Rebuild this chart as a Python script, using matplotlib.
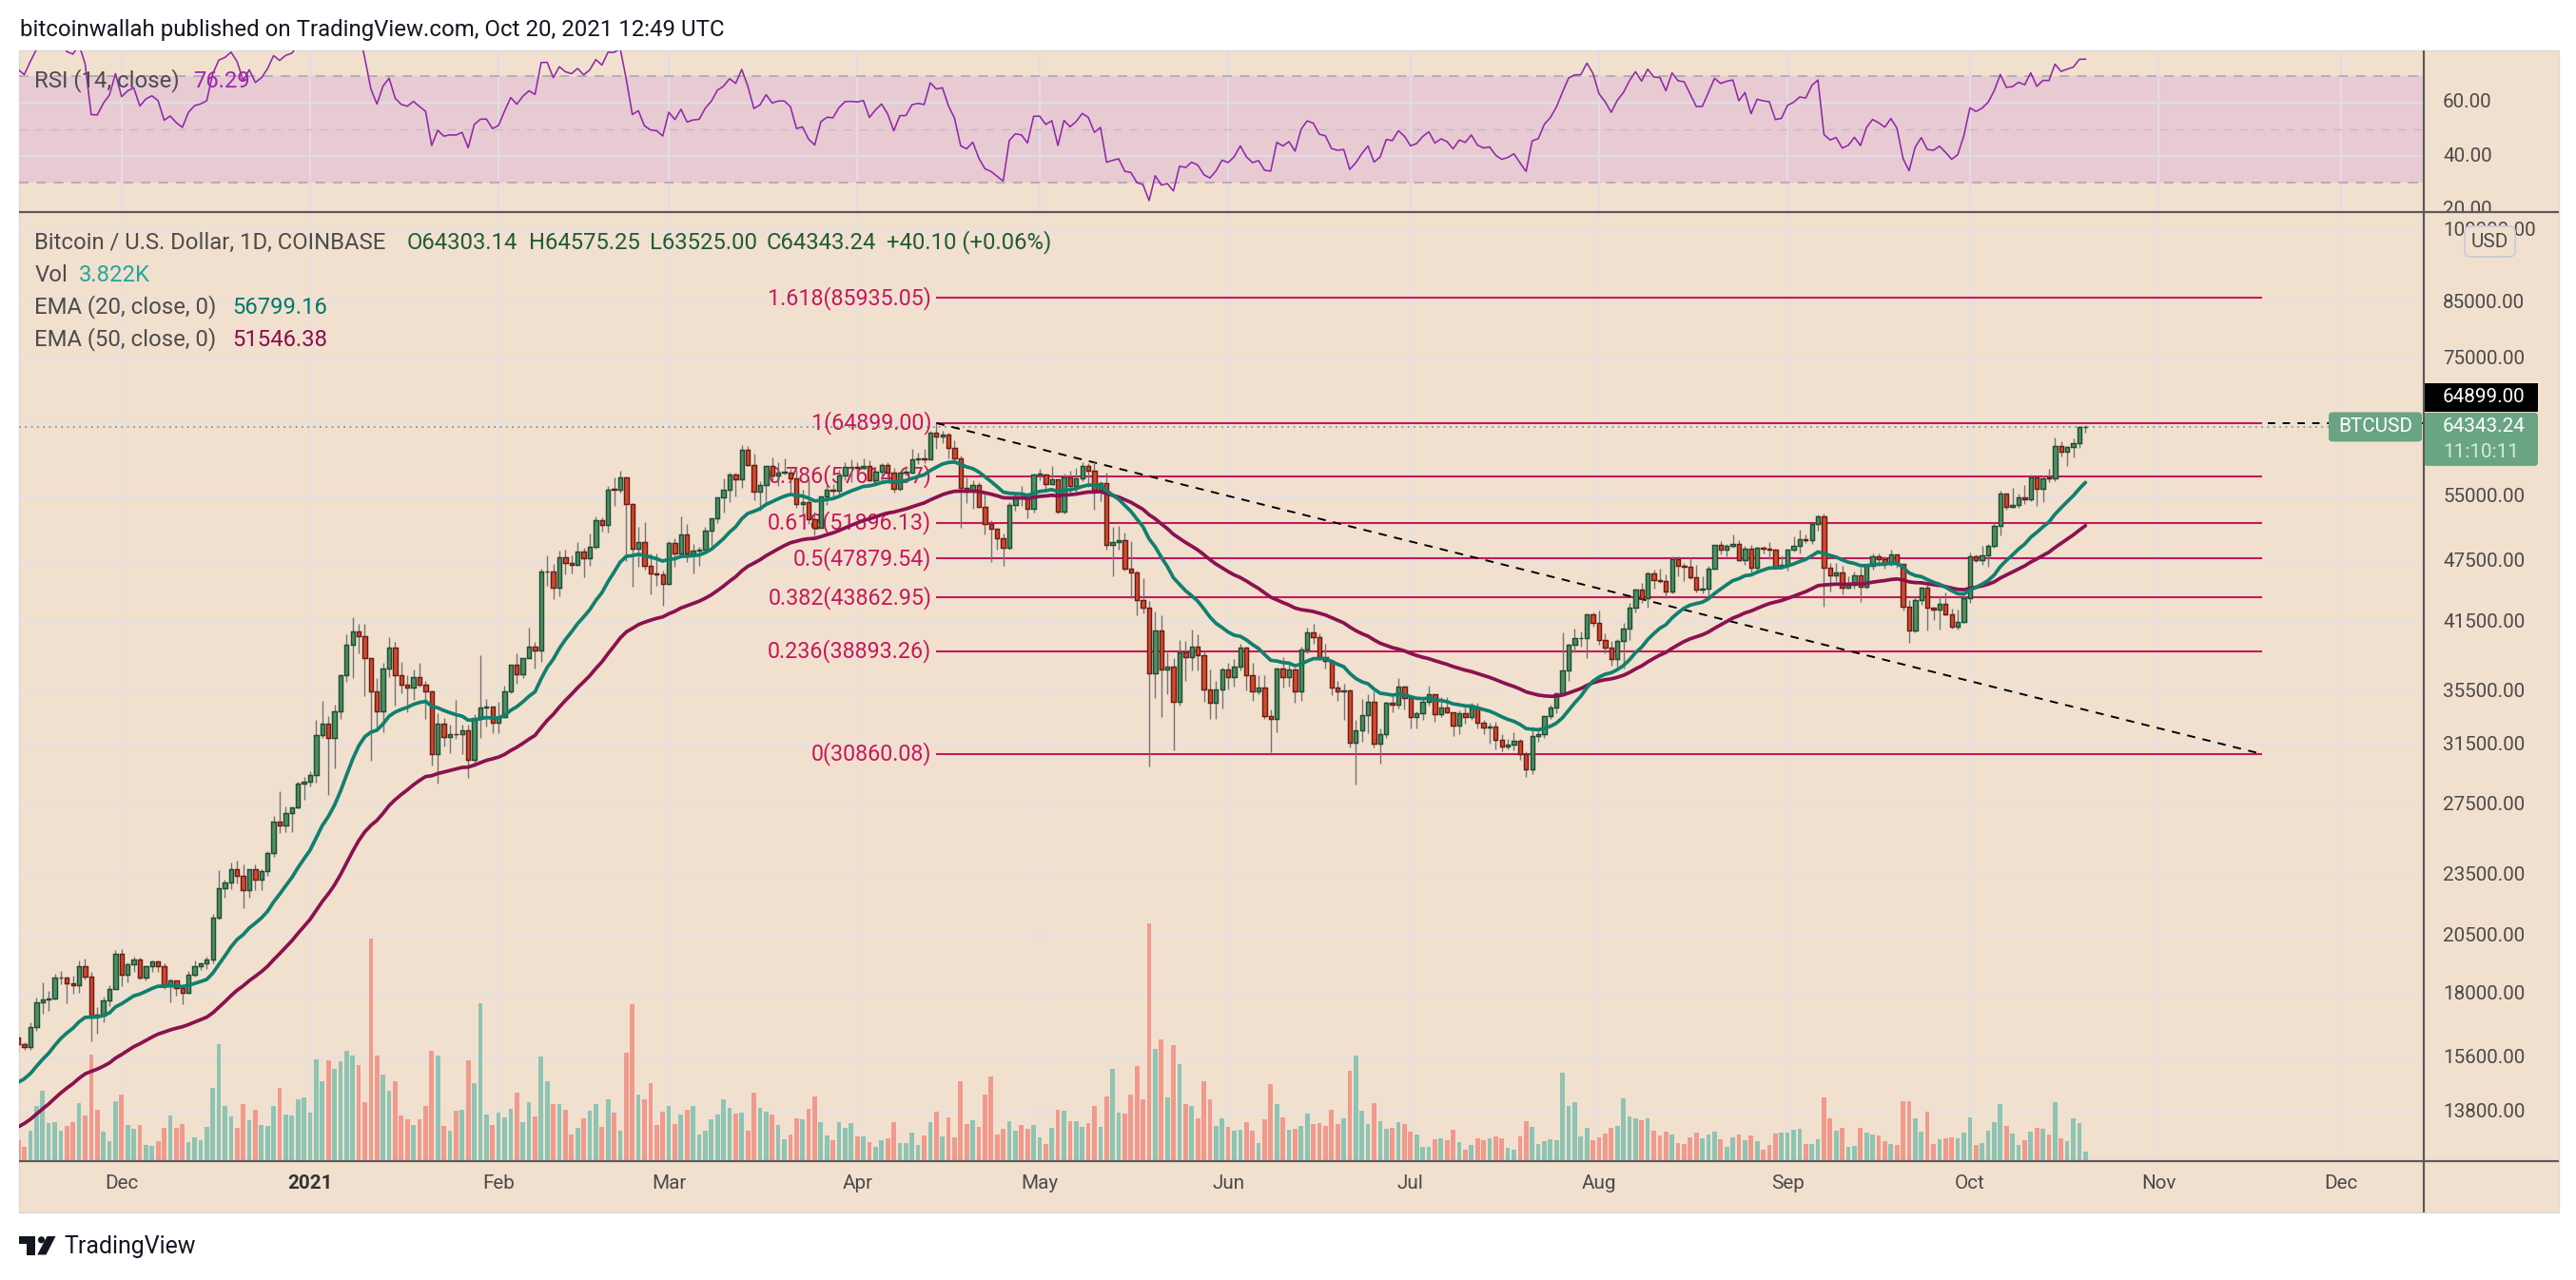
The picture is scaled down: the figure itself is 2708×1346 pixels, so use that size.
import datetime as dt
import numpy as np
import pandas as pd
import matplotlib
matplotlib.use("Agg")
import matplotlib.pyplot as plt
import matplotlib.dates as mdates
from matplotlib.patches import Rectangle, FancyBboxPatch, Polygon, Circle
from matplotlib.transforms import blended_transform_factory, offset_copy

# ---------------- DATA (BTC/USD daily, Coinbase) ----------------
# warm-up closes for indicators: 2020-09-01 .. 2020-11-13
close_pre_sep = [11920, 11390, 10170, 10470, 10170, 10250, 10370, 10130, 10230, 10340,
                 10390, 10440, 10330, 10680, 10790, 10960, 10940, 10930, 11080, 10920,
                 10420, 10530, 10240, 10740, 10690, 10730, 10770, 10700, 10840, 10780]
close_pre_oct = [10620, 10570, 10550, 10670, 10790, 10600, 10670, 10920, 11060, 11300,
                 11380, 11540, 11430, 11430, 11510, 11330, 11370, 11510, 11750, 11920,
                 12820, 12990, 12940, 13130, 13040, 13070, 13650, 13280, 13460, 13560, 13800]
close_pre_nov = [13760, 13560, 14030, 14150, 15590, 15590, 14840, 15480, 15330, 15310,
                 15700, 16290, 16330]

# visible bars: 2020-11-14 .. 2021-10-20
close_nov20 = [16070, 15970, 16720, 17660, 17780, 17820, 18660, 18690, 18420, 18370, 19160, 18730, 17150, 17140, 17720, 18180, 19700]
high_nov20 = [16480, 16140, 16880, 17860, 18490, 18140, 18820, 18970, 18700, 18770, 19420, 19490, 18920, 17460, 17880, 18340, 19870]
low_nov20 = [15790, 15870, 15880, 16560, 17220, 17340, 17770, 18410, 17620, 18000, 18040, 18600, 16190, 16460, 16880, 17520, 18180]

close_dec20 = [18790, 19220, 19440, 18680, 19150, 19360, 19170, 18320, 18550, 18250, 18040, 18800, 19170, 19270, 19440, 21350, 22800, 23130, 23840, 23480, 22720, 23820, 23250, 23710, 24690, 26490, 26270, 27040, 27360, 28880, 28990]
high_dec20 = [19920, 19310, 19560, 19510, 19180, 19420, 19400, 19290, 18640, 18560, 18290, 18950, 19410, 19340, 19570, 21560, 23770, 23280, 24170, 24290, 24100, 23840, 24100, 23800, 24790, 26850, 28370, 27410, 27380, 28990, 29300]
low_dec20 = [18330, 18480, 18930, 18580, 18560, 18930, 18910, 18210, 17650, 17910, 17580, 18010, 18710, 19000, 19050, 19290, 21260, 22360, 22770, 23070, 21820, 22350, 22710, 22730, 23450, 24500, 25860, 25880, 25890, 27320, 27860]

close_jan21 = [29410, 32190, 33000, 31990, 33950, 36830, 39400, 40610, 40240, 38240, 35550, 33960, 37370, 39150, 36820, 36030, 35820, 36640, 36070, 35530, 30830, 33010, 32090, 32270, 32240, 32570, 30430, 33470, 34270, 34300, 33110]
high_jan21 = [29680, 33300, 34790, 33600, 34500, 36950, 40380, 41950, 41360, 41350, 38260, 36630, 37850, 40100, 39700, 37950, 36850, 37300, 37850, 36400, 35600, 33840, 33460, 32960, 34880, 32930, 32940, 33780, 38560, 34910, 34310]
low_jan21 = [28660, 28950, 32000, 28130, 29900, 33400, 36300, 36570, 38720, 35110, 30360, 32530, 32400, 36700, 34400, 35360, 33860, 34870, 35900, 33400, 30070, 28850, 31400, 30900, 31950, 30840, 29260, 30000, 31990, 32850, 32300]

close_feb21 = [33520, 35510, 37680, 36950, 38290, 39260, 38900, 46450, 46510, 44840, 47970, 47400, 47190, 48590, 47940, 49170, 52150, 51600, 55900, 55890, 57410, 54090, 48890, 49700, 47060, 46300, 46150, 45240]
high_feb21 = [34700, 35980, 37720, 38680, 38300, 40980, 39700, 46750, 48180, 47330, 48680, 48870, 48190, 49710, 49000, 50620, 52580, 52500, 56370, 57500, 58350, 57510, 54200, 51400, 51950, 48400, 48380, 46600]
low_feb21 = [32300, 33430, 35370, 36160, 36600, 38300, 37370, 37990, 45050, 43720, 43950, 46240, 46300, 47060, 45900, 47080, 48980, 50860, 50710, 53900, 55490, 47600, 44900, 47000, 46740, 44150, 45000, 43020]

close_mar21 = [49600, 48380, 50500, 48370, 48760, 48880, 50970, 52390, 54880, 55860, 57800, 57230, 61180, 59000, 55640, 56470, 58920, 57660, 58090, 58100, 57350, 54080, 54340, 52300, 51290, 55020, 55860, 55780, 57630, 58760, 58800]
high_mar21 = [49810, 50150, 52640, 51780, 49450, 49200, 51450, 52400, 54900, 57380, 58070, 58050, 61740, 61600, 60610, 56950, 58980, 60100, 59470, 59900, 58600, 58400, 55850, 57200, 53210, 55080, 56560, 56600, 58400, 59380, 59800]
low_mar21 = [45120, 47020, 48110, 47520, 46300, 47070, 48880, 49300, 51840, 53080, 54300, 55030, 56120, 58960, 54600, 53300, 54150, 57030, 56300, 57850, 55500, 53700, 53000, 51700, 50400, 51280, 53950, 54680, 54900, 57020, 56870]

close_apr21 = [58730, 58980, 57080, 58200, 59120, 58020, 55950, 58090, 58120, 59770, 59980, 59860, 63580, 62960, 63200, 61400, 60000, 56150, 55660, 56470, 53800, 51700, 51150, 50110, 49070, 54040, 55050, 54880, 53590, 57800]
high_apr21 = [59460, 60000, 59760, 58500, 59260, 59470, 58660, 58150, 58900, 61230, 60690, 61200, 63760, 64899, 63800, 63500, 62500, 60400, 57500, 57100, 56800, 55500, 52150, 51200, 50600, 54360, 55500, 56400, 55200, 57950]
low_apr21 = [57950, 58450, 57000, 56500, 56800, 57330, 55470, 55730, 57700, 57930, 59200, 59370, 59800, 61300, 62000, 60000, 59600, 51300, 54200, 53500, 53600, 50500, 47500, 48800, 47060, 48800, 53300, 53900, 52400, 53100]

close_may21 = [57830, 56630, 57210, 53240, 57500, 56400, 57350, 58890, 58280, 55860, 56700, 49400, 49700, 49930, 46760, 46430, 43560, 42880, 37000, 40700, 37300, 37530, 34700, 38800, 38400, 39300, 38500, 35680, 34620, 35670, 37300]
high_may21 = [58500, 57950, 58950, 57250, 57950, 58350, 58650, 59500, 59300, 59600, 57000, 58000, 51400, 51500, 50700, 49800, 46600, 45800, 43550, 42500, 42100, 38800, 38300, 39900, 39800, 40800, 40400, 38850, 37300, 36400, 37500]
low_may21 = [57050, 56050, 56500, 53000, 52950, 55300, 55300, 56900, 56250, 53400, 54450, 48800, 46000, 48850, 46600, 43800, 42100, 42300, 30000, 35000, 33500, 35300, 31100, 34400, 36400, 37200, 37200, 34700, 33400, 33400, 34200]

close_jun21 = [36690, 37570, 39190, 36860, 35530, 35800, 33570, 33380, 37390, 36690, 37340, 35550, 39020, 40530, 40160, 38330, 38050, 35820, 35490, 35600, 31680, 32510, 33680, 34660, 31590, 32250, 34650, 34470, 35870, 35030]
high_jun21 = [37900, 38200, 39500, 39300, 37900, 36800, 36800, 34100, 37500, 38400, 37700, 37500, 39300, 41000, 41300, 40500, 39500, 38200, 36400, 36100, 35700, 33300, 34900, 35300, 35500, 32700, 34700, 35200, 36600, 36000]
low_jun21 = [35700, 35900, 37200, 35600, 34800, 35300, 33400, 31000, 32400, 35800, 35900, 34600, 34800, 38700, 39500, 38100, 37400, 35200, 34800, 33300, 31300, 28800, 31700, 32300, 31300, 30200, 32000, 33900, 34200, 34100]

close_jul21 = [33510, 33810, 34680, 35280, 33730, 34220, 33860, 32880, 33810, 33510, 34260, 33080, 32730, 32820, 31870, 31380, 31520, 31780, 30820, 29790, 32110, 32290, 33600, 34270, 35400, 37260, 39460, 40000, 40030, 42200, 41460]
high_jul21 = [35040, 33950, 35000, 35950, 35300, 35100, 35050, 33920, 34050, 34250, 34600, 34650, 33300, 33100, 33200, 32250, 31950, 32400, 31900, 31050, 32850, 32600, 33650, 34500, 35400, 40550, 39520, 40880, 40600, 42300, 42400]
low_jul21 = [32700, 32700, 33300, 34400, 33150, 33550, 33800, 32100, 32250, 33060, 33350, 32700, 32250, 31600, 31200, 31050, 31180, 31100, 30450, 29300, 29500, 31700, 32000, 33400, 33850, 35250, 36400, 38800, 39250, 38300, 41050]

close_aug21 = [39850, 39150, 38200, 39740, 40870, 42830, 44610, 43810, 46280, 45590, 45550, 44420, 47830, 47100, 47010, 45900, 44690, 44720, 46760, 49340, 48870, 49280, 49510, 47700, 48970, 46850, 49070, 48900, 48810, 46990, 47150]
high_aug21 = [42600, 40450, 39750, 39950, 41400, 43350, 44720, 45350, 46450, 46700, 46750, 46200, 48150, 48150, 47400, 48050, 47150, 46000, 47050, 49400, 49800, 49500, 50500, 49850, 49250, 49350, 49150, 49300, 49650, 48900, 48250]
low_aug21 = [39450, 38700, 37650, 37550, 37350, 39850, 42450, 43300, 42850, 44700, 45350, 43800, 44250, 45950, 45550, 45700, 44400, 44250, 43950, 46700, 48300, 48100, 49050, 47600, 47150, 46350, 46400, 48400, 47800, 46800, 46750]

close_sep21 = [48850, 49280, 50030, 49940, 51770, 52660, 46860, 46070, 46370, 44850, 45160, 46060, 44960, 47100, 48150, 47760, 47270, 48300, 47250, 42990, 40700, 43560, 44880, 42840, 42700, 43210, 42200, 41040, 41540, 43790]
high_sep21 = [48950, 50350, 51050, 50550, 51900, 52800, 52950, 47350, 47400, 47050, 45950, 46450, 46850, 47250, 48450, 48450, 48150, 48800, 48350, 47300, 43600, 44000, 44950, 45200, 42950, 43950, 44350, 42800, 42650, 44100]
low_sep21 = [46550, 48650, 48400, 49550, 49450, 50950, 43000, 44450, 45550, 44200, 44750, 44750, 43400, 44700, 46700, 47050, 46750, 47050, 46850, 42550, 39600, 40550, 43100, 40750, 41700, 40800, 42100, 40900, 40800, 41450]

close_oct21 = [48140, 47660, 48230, 49250, 51490, 55340, 53800, 53970, 54960, 54690, 57490, 56010, 57370, 57360, 61670, 60880, 61530, 62040, 64300, 64343.24]
high_oct21 = [48500, 48350, 49300, 49500, 51900, 55750, 55350, 56100, 55450, 56500, 57800, 57650, 57750, 58550, 62900, 62350, 61700, 62650, 64450, 64575.25]
low_oct21 = [43300, 47450, 47150, 46950, 49050, 50400, 53400, 53650, 53700, 54100, 54450, 53900, 54300, 56850, 56900, 60150, 58950, 60100, 61350, 63525.00]
last_open = 64303.14

# volume (bar heights, thousand-BTC scale units)
vol_nov20 = [5.5, 3.8, 8.2, 14.9, 19.0, 10.2, 10.5, 8.2, 9.4, 10.5, 15.7, 12.2, 28.7, 13.9, 7.9, 5.3, 16.2]
vol_dec20 = [18.0, 9.7, 8.7, 9.7, 4.3, 4.1, 5.3, 9.0, 12.3, 9.0, 10.0, 5.1, 6.4, 5.6, 9.2, 19.7, 31.5, 14.7, 12.1, 9.0, 15.2, 11.0, 13.9, 9.7, 9.5, 14.7, 19.8, 12.6, 12.3, 16.7, 17.0]
vol_jan21 = [13.1, 27.3, 21.6, 27.1, 24.7, 26.8, 29.7, 28.4, 25.8, 15.9, 60.0, 28.4, 23.2, 18.8, 21.4, 12.3, 11.3, 9.7, 11.3, 14.9, 29.7, 28.4, 9.5, 8.2, 13.6, 13.9, 27.1, 21.1, 42.6, 12.6, 9.7]
vol_feb21 = [13.1, 11.8, 14.1, 18.5, 10.5, 15.9, 12.1, 28.1, 21.4, 15.2, 15.4, 13.9, 7.2, 9.0, 11.6, 13.6, 15.2, 9.2, 16.5, 13.1, 8.2, 29.1, 42.3, 18.0, 16.5, 21.1, 9.7, 13.4]
vol_mar21 = [14.9, 10.0, 12.6, 13.9, 14.9, 7.2, 8.2, 11.3, 12.6, 16.7, 14.4, 12.8, 13.1, 8.2, 18.5, 14.4, 13.4, 12.6, 9.7, 5.9, 7.2, 11.6, 11.3, 14.1, 17.5, 10.5, 6.9, 5.6, 10.5, 9.0, 10.3]
vol_apr21 = [6.6, 6.6, 5.1, 3.8, 5.6, 6.1, 10.5, 4.8, 4.8, 7.7, 4.3, 6.9, 10.5, 13.4, 6.6, 11.8, 6.4, 21.6, 10.0, 11.0, 9.2, 18.0, 22.7, 7.2, 8.7, 10.8, 8.2, 9.7, 8.7, 9.7]
vol_may21 = [6.4, 4.6, 9.0, 13.9, 13.6, 10.8, 10.8, 9.2, 10.3, 14.7, 9.2, 17.5, 24.7, 13.1, 12.8, 18.0, 25.5, 16.7, 64.1, 30.2, 32.8, 17.2, 31.2, 26.0, 15.4, 14.9, 11.6, 21.4, 16.5, 9.5, 11.6]
vol_jun21 = [9.2, 8.2, 8.4, 10.5, 8.2, 4.8, 11.3, 20.7, 15.4, 11.8, 8.4, 8.7, 9.5, 12.8, 10.0, 10.3, 9.5, 13.9, 10.0, 11.6, 24.3, 28.4, 13.6, 10.0, 15.7, 10.8, 8.7, 9.0, 10.5, 10.0]
vol_jul21 = [7.9, 7.2, 3.8, 3.8, 5.9, 6.1, 5.6, 8.4, 5.1, 3.0, 4.3, 6.1, 5.6, 6.1, 6.7, 6.1, 3.5, 3.0, 6.7, 10.8, 9.2, 4.6, 5.3, 5.9, 5.6, 23.7, 14.7, 15.9, 6.6, 9.0, 5.6]
vol_aug21 = [6.4, 7.4, 9.0, 9.3, 16.8, 12.1, 11.6, 11.0, 11.6, 8.2, 6.9, 7.9, 7.2, 4.8, 4.6, 6.4, 7.7, 6.1, 7.2, 7.9, 5.9, 3.8, 6.4, 7.2, 5.6, 6.9, 5.3, 3.0, 4.3, 7.4, 7.7]
vol_sep21 = [7.7, 8.4, 8.7, 4.6, 4.6, 5.9, 17.0, 11.6, 8.2, 9.0, 3.8, 4.1, 9.0, 7.7, 7.2, 6.9, 5.3, 4.6, 4.3, 16.2, 16.2, 11.6, 7.9, 13.4, 4.6, 5.9, 6.1, 6.4, 6.1, 7.7]
vol_oct21 = [11.8, 4.3, 4.8, 8.2, 10.5, 15.2, 9.5, 7.4, 4.3, 5.6, 7.9, 9.0, 8.7, 7.2, 15.9, 6.1, 5.3, 11.6, 10.3, 2.5]

fib_levels = ["1.618", "1", "0.786", "0.618", "0.5", "0.382", "0.236", "0"]
fib_prices = [85935.05, 64899.00, 57614.67, 51896.13, 47879.54, 43862.95, 38893.26, 30860.08]
fib_start, fib_end = "2021-04-14", "2021-11-18"

price_ticks = [13800, 15600, 18000, 20500, 23500, 27500, 31500, 35500, 41500, 47500, 55000, 65000, 75000, 85000, 100000]
rsi_ticks = [20, 40, 60]
month_dates = ["2020-12-01", "2021-01-01", "2021-02-01", "2021-03-01", "2021-04-01", "2021-05-01",
               "2021-06-01", "2021-07-01", "2021-08-01", "2021-09-01", "2021-10-01", "2021-11-01", "2021-12-01"]
month_labels = ["Dec", "2021", "Feb", "Mar", "Apr", "May", "Jun", "Jul", "Aug", "Sep", "Oct", "Nov", "Dec"]

# ---------------- assemble ----------------
close_pre = np.array(close_pre_sep + close_pre_oct + close_pre_nov, float)
closes = np.array(close_nov20 + close_dec20 + close_jan21 + close_feb21 + close_mar21 + close_apr21 +
                  close_may21 + close_jun21 + close_jul21 + close_aug21 + close_sep21 + close_oct21, float)
highs = np.array(high_nov20 + high_dec20 + high_jan21 + high_feb21 + high_mar21 + high_apr21 +
                 high_may21 + high_jun21 + high_jul21 + high_aug21 + high_sep21 + high_oct21, float)
lows = np.array(low_nov20 + low_dec20 + low_jan21 + low_feb21 + low_mar21 + low_apr21 +
                low_may21 + low_jun21 + low_jul21 + low_aug21 + low_sep21 + low_oct21, float)
vols = np.array(vol_nov20 + vol_dec20 + vol_jan21 + vol_feb21 + vol_mar21 + vol_apr21 +
                vol_may21 + vol_jun21 + vol_jul21 + vol_aug21 + vol_sep21 + vol_oct21, float)
n = len(closes)
assert len(highs) == n and len(lows) == n and len(vols) == n, (n, len(highs), len(lows), len(vols))

all_close = np.r_[close_pre, closes]
dates_all = pd.date_range("2020-09-01", periods=len(all_close), freq="D")
x_all = mdates.date2num(dates_all.to_pydatetime())
x = x_all[len(close_pre):]
opens = all_close[len(close_pre) - 1:-1].copy()
opens[-1] = last_open
up = closes >= opens

ema20 = pd.Series(all_close).ewm(span=20, adjust=False).mean().values
ema50 = pd.Series(all_close).ewm(span=50, adjust=False).mean().values


def rsi_calc(c, period=14):
    d = np.diff(c)
    g = np.clip(d, 0, None)
    l = np.clip(-d, 0, None)
    ag = np.full(len(d), np.nan)
    al = np.full(len(d), np.nan)
    ag[period - 1] = g[:period].mean()
    al[period - 1] = l[:period].mean()
    for i in range(period, len(d)):
        ag[i] = (ag[i - 1] * (period - 1) + g[i]) / period
        al[i] = (al[i - 1] * (period - 1) + l[i]) / period
    r = 100 - 100 / (1 + ag / al)
    return np.r_[np.nan, r]


rsi = rsi_calc(all_close)

# ---------------- figure / layout ----------------
plt.rcParams['font.family'] = ['Roboto', 'DejaVu Sans']
W, H = 2708, 1346
fig = plt.figure(figsize=(W / 100, H / 100), dpi=100)
fig.patch.set_facecolor("white")

BEIGE = "#f2e0ce"
PINK = "#e8cad2"
GRID = "#e5e0e2"
AXTXT = "#4a4a4a"
UP_FILL, UP_EDGE = "#4e8f63", "#1d4d33"
DN_FILL, DN_EDGE = "#d2492f", "#6a1d12"
WICK = "#737373"
VOL_UP, VOL_DN = "#8dc4b3", "#f09a8d"
EMA20_C, EMA50_C = "#10806e", "#8a1250"
FIB_C = "#c4195d"
PGREEN = "#6aa583"

PL, PR, PT, PSEP, PB, PAX, PBOT = 20, 2548, 53, 222.7, 1220.7, 2690, 1275


def rect(l, t, r, b):
    return [l / W, 1 - b / H, (r - l) / W, (b - t) / H]


bg = fig.add_axes([0, 0, 1, 1], zorder=0)
bg.set_xlim(0, W); bg.set_ylim(H, 0); bg.axis("off")
bg.add_patch(Rectangle((PL, PT), PAX - PL, PBOT - PT, fc=BEIGE, ec="#dcdad6", lw=1))

ax_grid = fig.add_axes(rect(PL, PSEP, PR, PB), zorder=1)
ax_vol = fig.add_axes(rect(PL, PSEP, PR, PB), zorder=2, sharex=ax_grid)
ax_main = fig.add_axes(rect(PL, PSEP, PR, PB), zorder=3, sharex=ax_grid)
ax_rsi = fig.add_axes(rect(PL, PT, PR, PSEP), zorder=2, sharex=ax_grid)
ax_rlab = fig.add_axes(rect(PR, PT, PAX, PSEP), zorder=2)
for a in (ax_grid, ax_vol, ax_main, ax_rsi, ax_rlab):
    a.set_facecolor("none")
    a.set_axis_off()

d0 = mdates.date2num(dt.datetime(2020, 12, 1))
XMIN, XMAX = d0 - 16.87, d0 + 378.65
ax_grid.set_xlim(XMIN, XMAX)
YMIN, YMAX = 12370, 104330
for a in (ax_grid, ax_main):
    a.set_yscale("log")
    a.set_ylim(YMIN, YMAX)
ax_vol.set_ylim(0, 256.2)
RMIN, RMAX = 19.04, 79.64
ax_rsi.set_ylim(RMIN, RMAX)
ax_rlab.set_ylim(RMIN, RMAX)
ax_rlab.set_xlim(0, 1)

# overlay (pixel coordinates, y down)
ov = fig.add_axes([0, 0, 1, 1], zorder=10)
ov.set_xlim(0, W); ov.set_ylim(H, 0); ov.axis("off"); ov.set_facecolor("none")
renderer = fig.canvas.get_renderer()


def fit(s, target, **kw):
    t = ov.text(0, 0, s, fontsize=14, **kw)
    w = t.get_window_extent(renderer).width
    t.remove()
    return 14 * target / w


FS_AX = fit("13800.00", 87)
FS_FIB = fit("0.236(38893.26)", 172.5)

xm = mdates.date2num(pd.to_datetime(month_dates).to_pydatetime())

# grid
for v in xm:
    ax_grid.axvline(v, color=GRID, lw=1.5, zorder=0)
for p in price_ticks:
    ax_grid.axhline(p, color=GRID, lw=1.5, zorder=0)

# ---------------- RSI ----------------
ax_rsi.axhspan(30, 70, color=PINK, lw=0, zorder=0)
for v in xm:
    ax_rsi.axvline(v, color="#e2dbe6", lw=1.5, zorder=1)
for v in (40, 60):
    ax_rsi.axhline(v, color="#e2dbe6", lw=1.5, zorder=1)
ax_rsi.axhline(80, color=GRID, lw=1.5, zorder=1)
for v in (70, 30):
    ax_rsi.axhline(v, color="#aba5b5", lw=1.2, ls=(0, (6, 5)), zorder=2)
ax_rsi.axhline(50, color="#c3b9c9", lw=1.0, ls=(0, (6, 6)), zorder=2)
ax_rsi.plot(x_all, rsi, color="#8e28ab", lw=1.15, zorder=3)

for v in rsi_ticks:
    ax_rlab.text(20 / (PAX - PR), v, f"{v:.2f}", fontsize=FS_AX, color=AXTXT,
                 ha="left", va="center", clip_on=True,
                 transform=blended_transform_factory(ax_rlab.transAxes, ax_rlab.transData))

# ---------------- volume ----------------
ax_vol.bar(x, vols, width=0.74, color=np.where(up, VOL_UP, VOL_DN), lw=0, zorder=2)

# ---------------- main price ----------------
tx0 = mdates.date2num(pd.Timestamp(fib_start).to_pydatetime())
tx1 = mdates.date2num(pd.Timestamp(fib_end).to_pydatetime())

ax_main.axhline(closes[-1], color=PGREEN, lw=1.3, ls=(0, (1, 2.5)), zorder=1.2)
ax_main.plot([tx0, XMAX], [fib_prices[1], fib_prices[1]], color="black", lw=1.4,
             ls=(0, (4, 4)), zorder=1.3)
lab_tr = offset_copy(ax_main.transData, fig=fig, x=-5, y=0, units="dots")
for lv, pr in zip(fib_levels, fib_prices):
    ax_main.plot([tx0, tx1], [pr, pr], color=FIB_C, lw=1.5, zorder=1.5, solid_capstyle="butt")
    ax_main.text(tx0, pr, f"{lv}({pr:.2f})", transform=lab_tr, ha="right", va="center",
                 fontsize=FS_FIB, color=FIB_C, zorder=1.4)
ax_main.plot([tx0, tx1], [fib_prices[1], fib_prices[-1]], color="black", lw=1.4,
             ls=(0, (4.5, 4)), zorder=1.6)

ax_main.vlines(x, lows, highs, color=WICK, lw=1.0, zorder=2.5)
body_lo = np.minimum(opens, closes)
body_h = np.maximum(np.abs(closes - opens), body_lo * 0.0015)
ax_main.bar(x, body_h, bottom=body_lo, width=0.68,
            color=np.where(up, UP_FILL, DN_FILL), edgecolor=np.where(up, UP_EDGE, DN_EDGE),
            lw=1.05, zorder=3)
ax_main.plot(x_all, ema50, color=EMA50_C, lw=2.7, zorder=4, solid_capstyle="round")
ax_main.plot(x_all, ema20, color=EMA20_C, lw=2.7, zorder=4.1, solid_capstyle="round")

ptr = blended_transform_factory(ax_main.transAxes, ax_main.transData)
for p in price_ticks:
    ax_main.text(1 + 20 / (PR - PL), p, f"{p:.2f}", transform=ptr, fontsize=FS_AX, color=AXTXT,
                 ha="left", va="center", clip_on=False)

# ---------------- overlay items ----------------
ov.plot([PL, PAX], [PSEP, PSEP], color="#5a5a5a", lw=1.6, solid_capstyle="butt")
ov.plot([PL, PAX], [PB, PB], color="#5a5a5a", lw=1.6, solid_capstyle="butt")
ov.plot([PR, PR], [PT, PBOT], color="#5a5a5a", lw=1.6, solid_capstyle="butt")


def ypx(price):
    return H - ax_main.transData.transform((x[0], price))[1]


def xpx(xv):
    return ax_main.transData.transform((xv, 50000))[0]


yg = ypx(closes[-1])
# last price label
ov.add_patch(FancyBboxPatch((PR, yg - 15), 2668 - PR, 56, boxstyle="round,pad=0,rounding_size=4",
                            fc=PGREEN, ec="none"))
ov.text(2568, yg, f"{closes[-1]:.2f}", fontsize=FS_AX, color="white", ha="left", va="center")
ov.text(2568, yg + 27, "11:10:11", fontsize=FS_AX, color="#d6eadf", ha="left", va="center")
ov.add_patch(Rectangle((PR, yg - 46), 2668 - PR, 30, fc="black", ec="none"))
ov.text(2568, yg - 31, f"{fib_prices[1]:.2f}", fontsize=FS_AX, color="white", ha="left", va="center")
ov.add_patch(FancyBboxPatch((2448, yg - 15.5), 98, 31, boxstyle="round,pad=0,rounding_size=4",
                            fc=PGREEN, ec="none"))
ov.text(2497, yg, "BTCUSD", fontsize=FS_AX, color="white", ha="center", va="center")
# USD button
ov.add_patch(FancyBboxPatch((2591, 238), 53, 32, boxstyle="round,pad=0,rounding_size=6",
                            fc=BEIGE, ec="#c9cbd6", lw=1.3))
ov.text(2617.5, 254.5, "USD", fontsize=FS_AX, color=AXTXT, ha="center", va="center")

# x labels
for v, lab in zip(xm, month_labels):
    px = xpx(v)
    if PL < px < PR:
        ov.text(px, 1244, lab, fontsize=FS_AX, color=AXTXT if lab != "2021" else "#333333",
                ha="center", va="center", fontweight="bold" if lab == "2021" else "normal")

# header
hdr = "bitcoinwallah published on TradingView.com, Oct 20, 2021 12:49 UTC"
ov.text(20.7, 31.7, hdr, fontsize=fit(hdr, 745), color="#131722", ha="left", va="center")

fs_r = fit("RSI (14, close)", 153)
ov.text(36.5, 85, "RSI (14, close)", fontsize=fs_r, color="#4c4c4c", ha="left", va="center", zorder=5)
ov.text(203, 85, "76.29", fontsize=fs_r, color="#9c27b0", ha="left", va="center", zorder=5)

fs_l = fit("EMA (20, close, 0)", 192)
GREEN_TXT = "#1f5c38"
ov.text(36.5, 255, "Bitcoin / U.S. Dollar, 1D, COINBASE", fontsize=fs_l, color="#4c4c4c",
        ha="left", va="center")
for xx, s in [(428, "O64303.14"), (556, "H64575.25"), (683, "L63525.00"), (806, "C64343.24"),
              (932, "+40.10 (+0.06%)")]:
    ov.text(xx, 255, s, fontsize=fs_l, color=GREEN_TXT, ha="left", va="center")
ov.text(36.5, 289, "Vol", fontsize=fs_l, color="#4c4c4c", ha="left", va="center")
ov.text(83, 289, "3.822K", fontsize=fs_l, color="#26a69a", ha="left", va="center")
ov.text(36.5, 323, "EMA (20, close, 0)", fontsize=fs_l, color="#4c4c4c", ha="left", va="center")
ov.text(244, 323, "56799.16", fontsize=fs_l, color="#00796b", ha="left", va="center")
ov.text(36.5, 357, "EMA (50, close, 0)", fontsize=fs_l, color="#4c4c4c", ha="left", va="center")
ov.text(244, 357, "51546.38", fontsize=fs_l, color="#880e4f", ha="left", va="center")

# TradingView logo
LOGO = "#131722"
ov.add_patch(Polygon([(20, 1300), (36.6, 1300), (36.6, 1319.5), (28.3, 1319.5), (28.3, 1307.5),
                      (20, 1307.5)], closed=True, fc=LOGO, ec="none"))
ov.add_patch(Circle((43.5, 1303.8), 3.6, fc=LOGO, ec="none"))
ov.add_patch(Polygon([(49.5, 1300), (58.5, 1300), (48.5, 1319.5), (39.2, 1319.5)], closed=True,
                     fc=LOGO, ec="none"))
ov.text(67, 1311, "TradingView", fontsize=fit("TradingView", 139), color=LOGO, ha="left", va="center")

fig.savefig("out.png", dpi=100, facecolor="white")
